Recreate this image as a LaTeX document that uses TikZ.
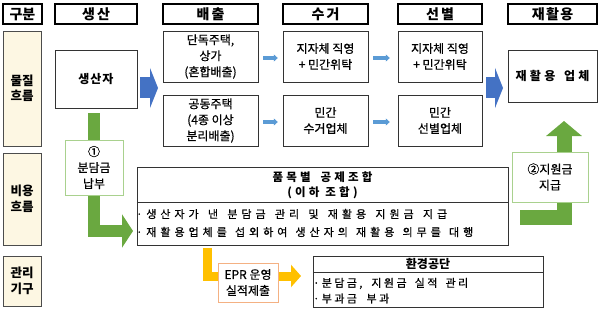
\documentclass[tikz,border=0pt]{standalone}
\usepackage{fontspec}
\setmainfont{Noto Sans CJK KR}
\newfontface\medfont{Noto Sans CJK KR}[FakeBold=0.6]
\newfontfamily\widemed{Noto Sans CJK KR}[LetterSpace=36, FakeBold=0.6]
\newfontfamily\widesmall{Noto Sans CJK KR}[LetterSpace=22, FakeBold=0.6]
\newfontfamily\widebold{Noto Sans CJK KR}[LetterSpace=28]
\newcommand{\fitline}[2]{\makebox[#1][s]{#2}}
\usetikzlibrary{arrows.meta, positioning, calc}

\definecolor{arrblue}{RGB}{68,114,196}
\definecolor{lightblue}{RGB}{91,155,213}
\definecolor{epgreen}{RGB}{106,168,64}
\definecolor{boxgreen}{RGB}{169,209,142}
\definecolor{epyellow}{RGB}{255,192,0}
\definecolor{boxorange}{RGB}{244,177,131}
\definecolor{catfill}{RGB}{253,247,227}

\begin{document}
\begin{tikzpicture}[x=1pt, y=-1pt,
  hdr/.style={draw, line width=1.3pt, fill=white, minimum height=20, inner sep=0pt,
    font=\fontsize{14pt}{16pt}\selectfont\bfseries},
  catbox/.style={draw=black!70, fill=catfill, minimum width=38, inner sep=0pt, align=center,
    font=\fontsize{12.5pt}{15.5pt}\selectfont\bfseries},
  flowbox/.style={draw=black!80, fill=white, inner sep=0pt, align=center,
    font=\fontsize{12pt}{16pt}\selectfont\medfont},
  greenbox/.style={flowbox, draw=boxgreen, line width=0.9pt},
  orangebox/.style={flowbox, draw=boxorange, line width=0.9pt},
  bigblue/.style={arrblue, line width=21pt, -{Triangle[length=8pt, width=40pt]}},
  smallblue/.style={lightblue, line width=3.5pt, -{Triangle[length=4pt, width=7pt]}},
  spaced/.style={anchor=west, inner sep=0pt, font=\fontsize{11pt}{15pt}\selectfont\widemed},
  spacedsmall/.style={anchor=west, inner sep=0pt, font=\fontsize{11pt}{15pt}\selectfont\widesmall},
]
  \useasboundingbox (0,0) rectangle (600,313);

  % Headers
  \node[hdr, minimum width=39] (hgubun) at (22.5,14) {구분};
  \node[hdr, minimum width=82] (hsang) at (96,14) {\addfontfeature{LetterSpace=15}생산};
  \node[hdr, minimum width=95] (hbae) at (210.5,14) {\addfontfeature{LetterSpace=15}배출};
  \node[hdr, minimum width=85] (hsu) at (325.5,14) {\addfontfeature{LetterSpace=15}수거};
  \node[hdr, minimum width=84] (hsun) at (440,14) {\addfontfeature{LetterSpace=15}선별};
  \node[hdr, minimum width=89] (hjae) at (552.5,14) {\addfontfeature{LetterSpace=10}재활용};

  % Categories
  \node[catbox, minimum height=115] (cmat) at (22,88.5) {물질\\흐름};
  \node[catbox, minimum height=92] (ccost) at (22,199) {비용\\흐름};
  \node[catbox, minimum height=50] (cadm) at (22,281) {관리\\기구};

  % Material flow
  \node[flowbox, minimum width=82, minimum height=58, font=\fontsize{12pt}{16pt}\selectfont\bfseries\addfontfeature{LetterSpace=8}] (prod) at (96,79) {생산자};
  \node[flowbox, minimum width=95, minimum height=51] (bA) at (210.5,56.5) {단독주택,\\상가\\(혼합배출)};
  \node[flowbox, minimum width=95, minimum height=51] (bB) at (210.5,120.5) {공동주택\\(4종 이상\\분리배출)};
  \node[flowbox, minimum width=85, minimum height=51] (sA) at (325.5,56.5) {지자체 직영\\+ 민간위탁};
  \node[flowbox, minimum width=85, minimum height=51] (sB) at (325.5,120.5) {민간\\수거업체};
  \node[flowbox, minimum width=84, minimum height=51] (nA) at (440,56.5) {지자체 직영\\+ 민간위탁};
  \node[flowbox, minimum width=84, minimum height=51] (nB) at (440,120.5) {민간\\선별업체};
  \node[flowbox, minimum width=89, minimum height=52, font=\fontsize{12pt}{16pt}\selectfont\widebold\bfseries] (rec) at (552.5,76) {\fitline{74pt}{재활용 업체}};

  \coordinate (ba1) at (140,88);
  \coordinate (ba2) at (158,88);
  \coordinate (bb1) at (486,88);
  \coordinate (bb2) at (503,88);
  \draw[bigblue] (ba1) -- (ba2);
  \draw[bigblue] (bb1) -- (bb2);
  \draw[smallblue, shorten <=5pt, shorten >=5pt] ([yshift=-1.5pt]bA.east) -- ([yshift=-1.5pt]sA.west);
  \draw[smallblue, shorten <=5pt, shorten >=5pt] ([yshift=-1.5pt]bB.east) -- ([yshift=-1.5pt]sB.west);
  \draw[smallblue, shorten <=5pt, shorten >=8pt] ([yshift=-1.5pt]sA.east) -- ([yshift=-1.5pt]nA.west);
  \draw[smallblue, shorten <=5pt, shorten >=8pt] ([yshift=-1.5pt]sB.east) -- ([yshift=-1.5pt]nB.west);

  % Cost flow
  \node[flowbox, minimum width=371, minimum height=78] (zohap) at (322.5,206) {};
  \draw[black!80] (zohap.west |- 0,202) -- (zohap.east |- 0,202);
  \node[font=\fontsize{11.5pt}{15.5pt}\selectfont\widebold\bfseries, align=center] (ztitle) at (322.5,185.5) {\fitline{100pt}{품목별 공제조합}\\(이하 조합)};
  \node[spaced] (zl1) at (136,214) {\fitline{311pt}{·생산자가 낸 분담금 관리 및 재활용 지원금 지급}};
  \node[spaced] (zl2) at (136,232) {\fitline{337pt}{·재활용업체를 섭외하여 생산자의 재활용 의무를 대행}};

  \coordinate (g1) at (133,231);
  \draw[epgreen, line width=12pt, -{Triangle[length=11pt, width=33pt]}, shorten <=5pt] ([xshift=-2pt]prod.south) |- (g1);
  \node[greenbox, minimum width=58, minimum height=55] (pay) at (94,167.5) {①\\분담금\\납부};

  \coordinate (g2s) at (520,217);
  \coordinate (g2e) at (564,121);
  \draw[epgreen, line width=15pt, -{Triangle[length=15pt, width=35pt]}] (g2s) -| (g2e);
  \node[greenbox, minimum width=76, minimum height=50] (sup) at (550,177) {②지원금\\지급};

  % Administration
  \coordinate (o1) at (207.5,248);
  \coordinate (o2) at (301,276);
  \draw[epyellow, line width=9pt, -{Triangle[length=10pt, width=22pt]}] (o1) |- (o2);
  \node[orangebox, minimum width=60, minimum height=39] (epr) at (248,282.5) {EPR 운영\\실적제출};

  \node[flowbox, minimum width=230, minimum height=51] (kec) at (428,281.5) {};
  \draw[black!80] (kec.west |- 0,272) -- (kec.east |- 0,272);
  \node[font=\fontsize{12pt}{15pt}\selectfont\bfseries] (ktitle) at (428,264) {환경공단};
  \node[spacedsmall] (kl1) at (313,283.5) {\fitline{155pt}{·분담금, 지원금 실적 관리}};
  \node[spacedsmall] (kl2) at (313,298.5) {\fitline{76pt}{·부과금 부과}};
\end{tikzpicture}
\end{document}
